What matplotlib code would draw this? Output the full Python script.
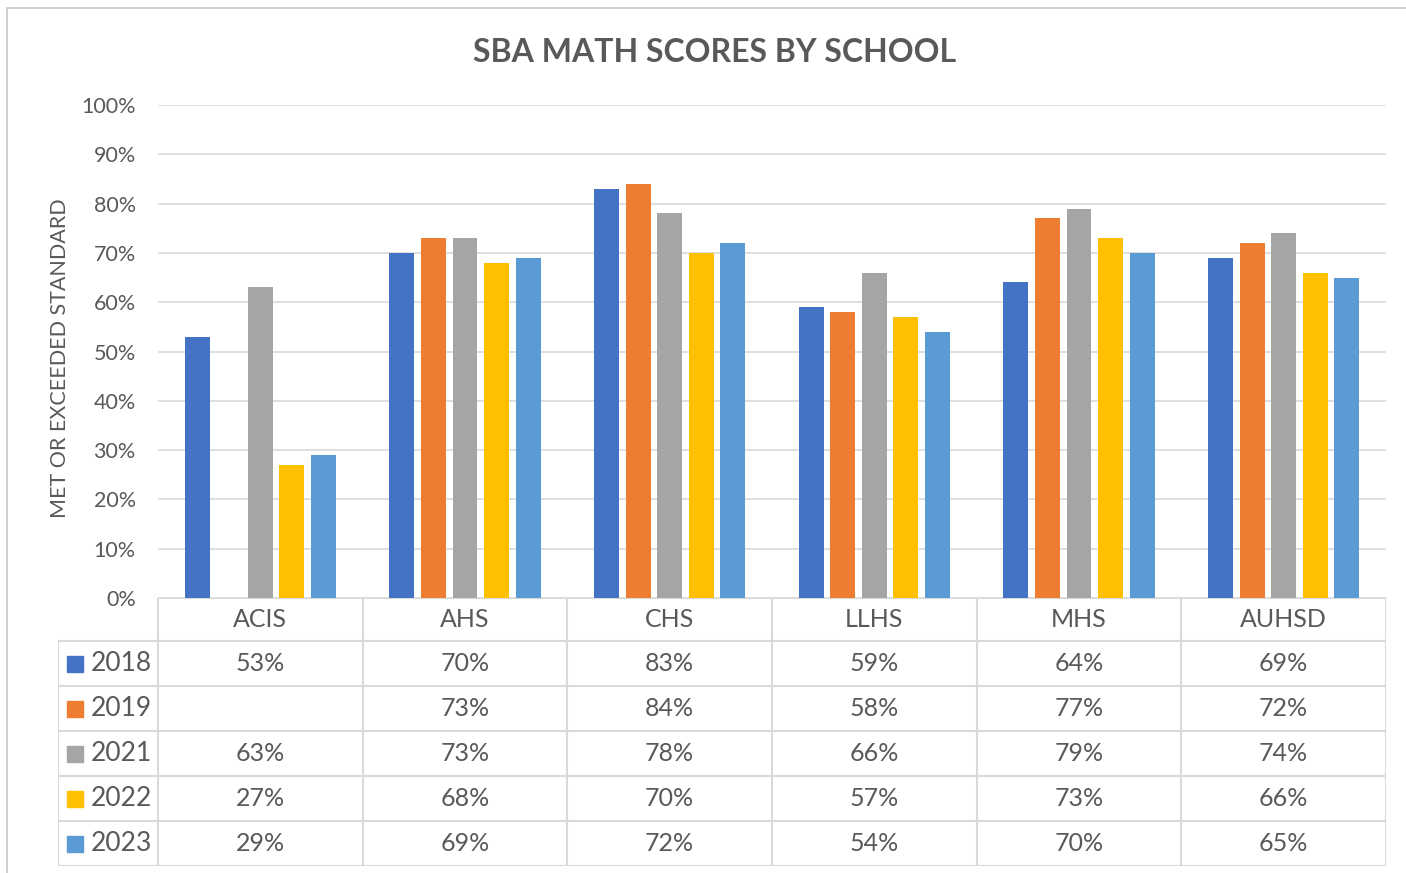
import numpy as np
import matplotlib
matplotlib.use('Agg')
import matplotlib.pyplot as plt
from matplotlib.patches import Rectangle

# Chart data
schools = ['ACIS', 'AHS', 'CHS', 'LLHS', 'MHS', 'AUHSD']
years = ['2018', '2019', '2021', '2022', '2023']
scores_2018 = [53, 70, 83, 59, 64, 69]
scores_2019 = [None, 73, 84, 58, 77, 72]
scores_2021 = [63, 73, 78, 66, 79, 74]
scores_2022 = [27, 68, 70, 57, 73, 66]
scores_2023 = [29, 69, 72, 54, 70, 65]
series = [scores_2018, scores_2019, scores_2021, scores_2022, scores_2023]
colors = ['#4472C4', '#ED7D31', '#A5A5A5', '#FFC000', '#5B9BD5']

TEXT = '#595959'
GRID = '#D9D9D9'
plt.rcParams['font.family'] = ['Lato', 'DejaVu Sans']

W, H = 1406, 873
fig = plt.figure(figsize=(W / 100, H / 100), dpi=100)

# outer chart border
fig.patches.append(Rectangle((7 / W, -0.1), 1.2, (H - 8) / H + 0.1,
                             transform=fig.transFigure, fill=False,
                             edgecolor='#C8C8C8', linewidth=1.2))

# bar area
px_left, px_right, px_top, px_bottom = 158, 1386, 105, 598
ax = fig.add_axes([px_left / W, (H - px_bottom) / H,
                   (px_right - px_left) / W, (px_bottom - px_top) / H])
x = np.arange(len(schools))
step, width = 0.154, 0.122
for i, (vals, c) in enumerate(zip(series, colors)):
    heights = [np.nan if v is None else v / 100 for v in vals]
    ax.bar(x + (i - 2) * step, heights, width=width, color=c, zorder=3)

ax.set_xlim(-0.5, len(schools) - 0.5)
ax.set_ylim(0, 1)
ax.set_yticks(np.arange(0, 1.01, 0.1))
ax.set_yticklabels([f'{int(round(t * 100))}%' for t in np.arange(0, 1.01, 0.1)])
ax.tick_params(axis='y', length=0, pad=16, labelsize=15.5, labelcolor=TEXT)
ax.set_xticks([])
ax.grid(axis='y', color=GRID, linewidth=1.2, zorder=0)
for s in ax.spines.values():
    s.set_visible(False)

fig.text(60 / W, (H - 358) / H, 'MET OR EXCEEDED STANDARD', rotation=90,
         ha='center', va='center', fontsize=15.5, color=TEXT)
fig.text(715 / W, (H - 52) / H, 'SBA MATH SCORES BY SCHOOL', ha='center',
         va='center', fontsize=23, fontweight='bold', color=TEXT)

# data table below the bars, sharing the category scale
cat_px = (px_right - px_left) / len(schools)
tbl_left, tbl_bottom = 58, 866
x0 = -0.5 - (px_left - tbl_left) / cat_px
head_h = 43 / 45
tax = fig.add_axes([tbl_left / W, (H - tbl_bottom) / H,
                    (px_right - tbl_left) / W, (tbl_bottom - px_bottom) / H])
tax.set_xlim(x0, len(schools) - 0.5)
tax.set_ylim(len(years) + head_h, 0)
tax.axis('off')

line_kw = dict(color=GRID, linewidth=1.5, solid_capstyle='projecting')
tax.plot([-0.5, len(schools) - 0.5], [0, 0], **line_kw)
for r in range(len(years) + 1):
    tax.plot([x0, len(schools) - 0.5], [head_h + r, head_h + r], **line_kw)
for b in np.arange(-0.5, len(schools), 1.0):
    tax.plot([b, b], [0, len(years) + head_h], **line_kw)
tax.plot([x0, x0], [head_h, len(years) + head_h], **line_kw)

for j, name in enumerate(schools):
    tax.text(j, head_h / 2, name, ha='center', va='center', fontsize=18,
             color=TEXT)
sq_x = x0 + (74.5 - tbl_left) / cat_px
lab_x = x0 + (91 - tbl_left) / cat_px
for r, (yr, vals, c) in enumerate(zip(years, series, colors)):
    yc = head_h + r + 0.5
    tax.plot([sq_x], [yc], marker='s', markersize=11, color=c,
             linestyle='none')
    tax.text(lab_x, yc, yr, ha='left', va='center', fontsize=19, color=TEXT)
    for j, v in enumerate(vals):
        if v is not None:
            tax.text(j, yc, f'{v}%', ha='center', va='center', fontsize=18,
                     color=TEXT)

fig.savefig('out.png', dpi=100, facecolor='white')
